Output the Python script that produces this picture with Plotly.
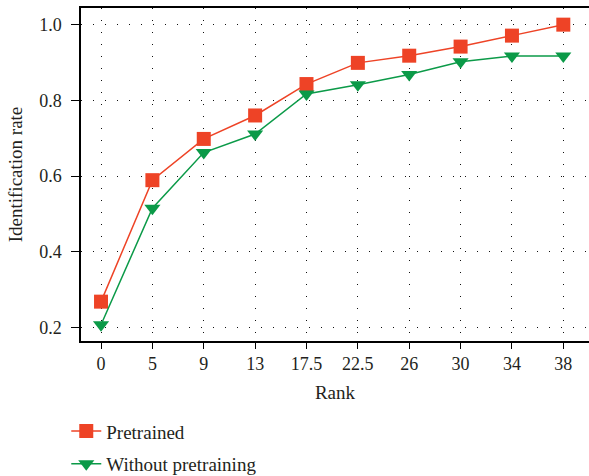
import plotly.graph_objects as go

ranks = ["0", "5", "9", "13", "17.5", "22.5", "26", "30", "34", "38"]
pretrained = [0.268, 0.589, 0.698, 0.760, 0.843, 0.899, 0.918, 0.942, 0.971, 1.0]
without_pretraining = [0.207, 0.515, 0.662, 0.711, 0.817, 0.841, 0.868, 0.902, 0.917, 0.917]

RED = "#EE4326"
GREEN = "#0B9A48"
TXT = "#231F20"
FONT = "Liberation Serif"

fig = go.Figure()
fig.add_trace(go.Scatter(
    x=list(range(len(ranks))), y=pretrained, name="Pretrained",
    mode="lines+markers", legendgroup="a",
    line=dict(color=RED, width=1.5),
    marker=dict(symbol="square", size=14, color=RED),
))
fig.add_trace(go.Scatter(
    x=list(range(len(ranks))), y=without_pretraining, name="Without pretraining",
    mode="lines+markers", legendgroup="b",
    line=dict(color=GREEN, width=1.5),
    marker=dict(symbol="triangle-down", size=14, color=GREEN),
))

grid_dash = "1px,11px"
fig.update_layout(
    width=589, height=476,
    margin=dict(l=81, r=0, t=8, b=135, autoexpand=False),
    plot_bgcolor="white", paper_bgcolor="white",
    font=dict(family=FONT, size=18, color=TXT),
    showlegend=True,
    legend=dict(
        x=-0.029, y=-0.214, xanchor="left", yanchor="top",
        orientation="v", traceorder="grouped", tracegroupgap=5,
        font=dict(family=FONT, size=19, color=TXT),
        bgcolor="rgba(0,0,0,0)",
    ),
    xaxis=dict(
        range=[-0.39, 9.5],
        tickmode="array", tickvals=list(range(len(ranks))), ticktext=ranks,
        tickangle=0,
        showline=True, linecolor="black", linewidth=1.5, mirror=True,
        ticks="outside", ticklen=6, tickcolor="black", tickwidth=1,
        showgrid=True, gridcolor="#111", gridwidth=1, griddash=grid_dash,
        zeroline=False,
        title=dict(text="Rank", standoff=12, font=dict(family=FONT, size=19, color=TXT)),
        tickfont=dict(family=FONT, size=18, color=TXT),
    ),
    yaxis=dict(
        range=[0.164, 1.044],
        tickmode="array", tickvals=[0.2, 0.4, 0.6, 0.8, 1.0],
        ticktext=["0.2", "0.4", "0.6", "0.8", "1.0"],
        showline=True, linecolor="black", linewidth=1.5, mirror=False,
        ticks="outside", ticklen=8, tickcolor="black", tickwidth=1,
        ticklabelstandoff=6,
        showgrid=True, gridcolor="#111", gridwidth=1, griddash=grid_dash,
        zeroline=False,
        title=dict(text="Identification rate", standoff=12, font=dict(family=FONT, size=19, color=TXT)),
        tickfont=dict(family=FONT, size=18, color=TXT),
    ),
)

fig.write_html("out.html", config={"displayModeBar": False},
               post_script="document.body.style.margin='0';")
